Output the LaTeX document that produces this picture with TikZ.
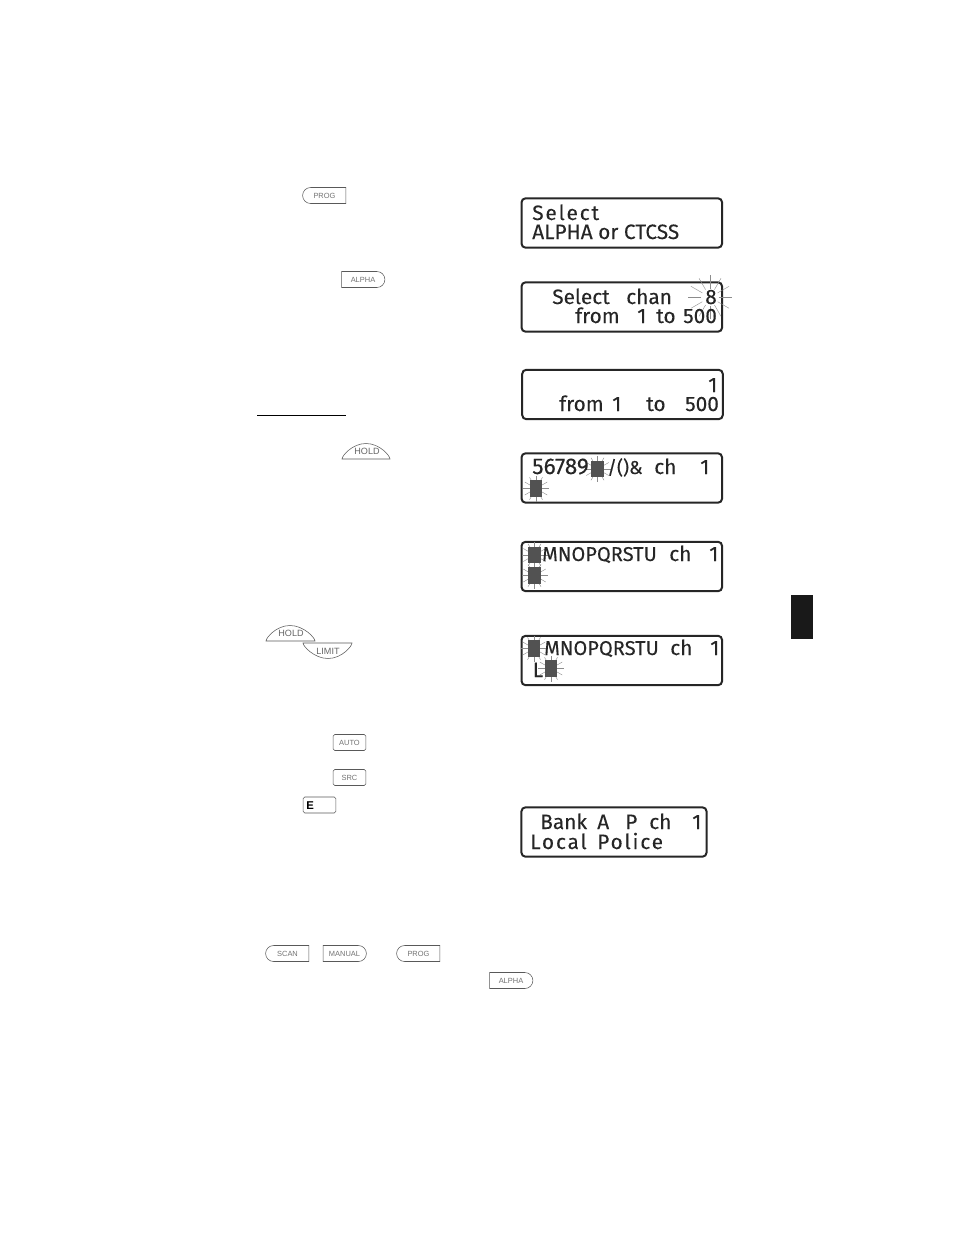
\documentclass[tikz,border=0pt]{standalone}
\usepackage{fontspec}
\setmainfont{Liberation Sans}
\newfontfamily\lcdfont[FakeBold=0.12]{Fira Sans}
\usetikzlibrary{shapes.misc}
\tikzset{
  lcdbox/.style={draw=black!85,line width=1.5pt,rounded corners=3pt,minimum width=150.4pt,minimum height=37pt,inner sep=0pt},
  lcdtext/.style={anchor=base west,inner sep=0pt,font=\lcdfont\fontsize{15.6}{15.6}\selectfont,text=black!85},
  lcdwide/.style={lcdtext,font=\lcdfont\fontsize{15.6}{15.6}\selectfont\addfontfeatures{LetterSpace=9}},
  lcdtight/.style={lcdtext,font=\lcdfont\fontsize{15}{15}\selectfont},
  keybase/.style={draw=black!65,line width=0.4pt,inner sep=0pt,minimum width=32.5pt,minimum height=12pt,text=black!55,font=\fontsize{5.6}{6}\selectfont},
  keyleft/.style={keybase,rounded rectangle,rounded rectangle east arc=none},
  keyright/.style={keybase,rounded rectangle,rounded rectangle west arc=none},
  keysquare/.style={keybase,rounded corners=1.2pt,minimum width=24.5pt},
  keylabel/.style={inner sep=0pt,text=black!60,font=\fontsize{6.8}{7}\selectfont},
  keyline/.style={draw=black!65,line width=0.4pt},
  blink/.style={fill=black!68,draw=none,minimum width=9.2pt,minimum height=12.4pt,inner sep=0pt},
  rayline/.style={draw=black!45,line width=0.3pt}
}
% rays round a blinking character
\newcommand{\blinkrays}[3]{\foreach \a in {0,30,...,330} \draw[rayline] (#1,#2) ++(\a:#3*0.4) -- ++(\a:#3*0.6);}
\begin{document}
\begin{tikzpicture}[x=0.75pt,y=-0.75pt]
  \useasboundingbox[fill=white] (0,0) rectangle (954,1235);

  % Keys
  \node[keyleft] (progA) at (324.5,195.5) {PROG};
  \node[keyright] (alphaA) at (363,279.5) {ALPHA};
  \node[keysquare] (autoA) at (349.5,742.5) {AUTO};
  \node[keysquare] (srcA) at (349.5,777.5) {SRC};
  \node[keysquare] (enterA) at (319.5,805) {};
  \node[anchor=west,inner sep=0pt,font=\bfseries\fontsize{8.5}{8.5}\selectfont] (enterB) at (306,805.5) {E};
  \node[keyleft] (scanA) at (287.5,953.5) {SCAN};
  \node[keyright] (manualA) at (344.5,953.5) {MANUAL};
  \node[keyleft] (progB) at (418.5,953.5) {PROG};
  \node[keyright] (alphaB) at (511,980.5) {ALPHA};

  % Dome keys
  \draw[keyline] (342,459) .. controls (342,456) and (352,443.5) .. (366,443.5) .. controls (380,443.5) and (390,456) .. (390,459) -- cycle;
  \node[keylabel] (holdA) at (367,451.5) {HOLD};
  \draw[keyline] (266,641) .. controls (266,638) and (276,625.5) .. (290,625.5) .. controls (304,625.5) and (315,638) .. (315,641) -- cycle;
  \node[keylabel] (holdB) at (291,633.5) {HOLD};
  \draw[keyline] (303,643) .. controls (303,646) and (314,658.5) .. (328,658.5) .. controls (342,658.5) and (352,646) .. (352,643) -- cycle;
  \node[keylabel] (limitA) at (328,651) {LIMIT};

  % Underline and tab
  \coordinate (lineA) at (257,415);
  \coordinate (lineB) at (346,415);
  \draw[line width=0.75pt] (lineA) -- (lineB);
  \fill[black!90] (791,595) rectangle (813,639);

  % Display 1
  \node[lcdbox] (lcdA) at (621.8,223) {};
  \node[lcdwide] (selA) at (532,220) {Select};
  \node[lcdtext] (alphaC) at (532,239) {ALPHA or CTCSS};

  % Display 2
  \node[lcdbox] (lcdB) at (621.8,307) {};
  \blinkrays{710}{297.3}{22}
  \node[lcdtext] (selB) at (552,304) {Select};
  \node[lcdtext] (chanB) at (626,304) {chan};
  \node[lcdtext] (numB) at (705,304) {8};
  \node[lcdtext] (fromB) at (575,323) {from};
  \node[lcdtext] (oneB) at (637,323) {1};
  \node[lcdtext] (toB) at (656,323) {to};
  \node[lcdtext] (maxB) at (683,323) {500};

  % Display 3
  \node[lcdbox] (lcdC) at (622.5,394.5) {};
  \node[lcdtext] (numC) at (708,392) {1};
  \node[lcdtext] (fromC) at (559,411) {from};
  \node[lcdtext] (oneC) at (612,411) {1};
  \node[lcdtext] (toC) at (646,411) {to};
  \node[lcdtext] (maxC) at (685,411) {500};

  % Display 4
  \node[lcdbox] (lcdD) at (621.8,478) {};
  \blinkrays{597.5}{469}{13}
  \blinkrays{536}{488.5}{13}
  \node[lcdtext,font=\lcdfont\fontsize{17}{17}\selectfont] (digD) at (532,474) {56789};
  \node[blink] (blinkDa) at (597.5,469) {};
  \node[lcdtext,font=\lcdfont\fontsize{14}{14}\selectfont] (symD) at (607,474) {/()\&};
  \node[lcdtext] (chD) at (654,474) {ch};
  \node[lcdtext] (numD) at (700,474) {1};
  \node[blink] (blinkDb) at (536,488.5) {};

  % Display 5
  \node[lcdbox] (lcdE) at (621.8,566.5) {};
  \blinkrays{534.5}{555}{13}
  \blinkrays{534.5}{575.5}{13}
  \node[blink] (blinkEa) at (534.5,555) {};
  \node[blink] (blinkEb) at (534.5,575.5) {};
  \node[lcdtight] (letE) at (542,561) {MNOPQRSTU};
  \node[lcdtext] (chE) at (669,561) {ch};
  \node[lcdtext] (numE) at (709,561) {1};

  % Display 6
  \node[lcdbox] (lcdF) at (621.8,660.5) {};
  \blinkrays{534}{648.5}{13}
  \blinkrays{551}{668.5}{13}
  \node[blink] (blinkFa) at (534,648.5) {};
  \node[lcdtight] (letF) at (544,655) {MNOPQRSTU};
  \node[lcdtext] (chF) at (670,655) {ch};
  \node[lcdtext] (numF) at (710,655) {1};
  \node[lcdtext] (letFb) at (532.5,677) {L};
  \node[blink] (blinkFb) at (551,668.5) {};

  % Display 7
  \node[lcdbox,minimum width=138.8pt] (lcdG) at (614,832) {};
  \node[lcdtext] (bankG) at (540,829) {Bank};
  \node[lcdtext] (aG) at (597,829) {A};
  \node[lcdtext] (pG) at (625,829) {P};
  \node[lcdtext] (chG) at (649,829) {ch};
  \node[lcdtext] (numG) at (692,829) {1};
  \node[lcdwide] (localG) at (530,849) {Local};
  \node[lcdwide] (policeG) at (597,849) {Police};
\end{tikzpicture}
\end{document}
